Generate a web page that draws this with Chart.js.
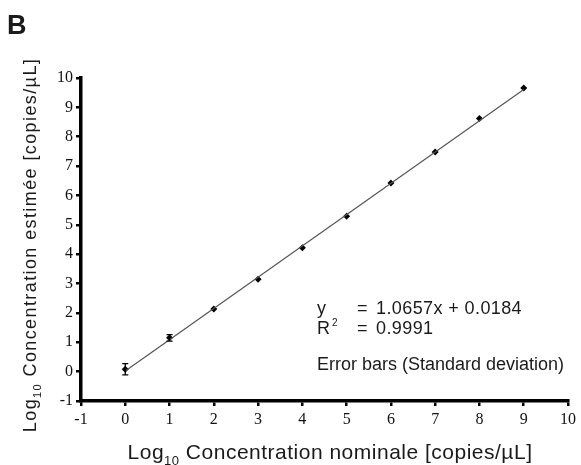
<!DOCTYPE html>
<html>
<head>
<meta charset="utf-8">
<script src="https://cdn.jsdelivr.net/npm/chart.js@4/dist/chart.umd.min.js"></script>
<style>
  html, body { margin: 0; padding: 0; background: #fff; }
  #wrap { width: 581px; height: 465px; position: relative; }
</style>
</head>
<body>
<div id="wrap"><canvas id="chartCanvas"></canvas></div>
<script>
  // values
  var nominal = [0, 1, 2, 3, 4, 5, 6, 7, 8, 9];
  var estimated = [0.08, 1.15, 2.13, 3.15, 4.22, 5.29, 6.42, 7.48, 8.62, 9.66];
  var stdDev = [0.19, 0.11, 0.03, 0.03, 0.02, 0.02, 0.02, 0.02, 0.02, 0.02];
  var fitX = [0, 9];
  var fitY = [0.02, 9.61];
  var axisMin = -1;
  var axisMax = 10;

  var sansFont = '"Liberation Sans", Arial, sans-serif';
  var serifFont = '"Liberation Serif", "Times New Roman", serif';

  var points = nominal.map(function(x, i) { return { x: x, y: estimated[i] }; });
  var fitLine = fitX.map(function(x, i) { return { x: x, y: fitY[i] }; });

  function setSpacing(ctx, px) {
    if ('letterSpacing' in ctx) ctx.letterSpacing = px + 'px';
  }

  // draws text with a "10" subscript after "Log"
  function drawLogTitle(ctx, rest, size, spacing) {
    var sub = Math.round(size * 0.62);
    setSpacing(ctx, spacing);
    ctx.font = size + 'px ' + sansFont;
    var w1 = ctx.measureText('Log').width;
    var w3 = ctx.measureText(rest).width;
    ctx.font = sub + 'px ' + sansFont;
    var w2 = ctx.measureText('10').width;
    var x = -(w1 + w2 + w3) / 2;
    ctx.textBaseline = 'alphabetic';
    ctx.textAlign = 'left';
    ctx.font = size + 'px ' + sansFont;
    ctx.fillText('Log', x, 0);
    ctx.font = sub + 'px ' + sansFont;
    ctx.fillText('10', x + w1, size * 0.3);
    ctx.font = size + 'px ' + sansFont;
    ctx.fillText(rest, x + w1 + w2, 0);
    setSpacing(ctx, 0);
  }

  var extrasPlugin = {
    id: 'extras',
    afterDatasetsDraw: function(chart) {
      var ctx = chart.ctx;
      var xs = chart.scales.x, ys = chart.scales.y;
      ctx.save();
      ctx.strokeStyle = '#000';
      ctx.lineWidth = 1.3;
      nominal.forEach(function(x, i) {
        var px = xs.getPixelForValue(x);
        var top = ys.getPixelForValue(estimated[i] + stdDev[i]);
        var bot = ys.getPixelForValue(estimated[i] - stdDev[i]);
        if (bot - top < 4) return;
        ctx.beginPath();
        ctx.moveTo(px, top); ctx.lineTo(px, bot);
        ctx.moveTo(px - 3, top); ctx.lineTo(px + 3, top);
        ctx.moveTo(px - 3, bot); ctx.lineTo(px + 3, bot);
        ctx.stroke();
      });
      ctx.restore();
    },
    afterDraw: function(chart) {
      var ctx = chart.ctx;
      ctx.save();
      ctx.fillStyle = '#1a1a1a';

      ctx.font = 'bold 27px ' + sansFont;
      ctx.textAlign = 'left';
      ctx.textBaseline = 'alphabetic';
      ctx.fillText('B', 7, 34);

      ctx.save();
      ctx.translate(330, 459);
      drawLogTitle(ctx, ' Concentration nominale [copies/\u00b5L]', 21, 0.5);
      ctx.restore();

      ctx.save();
      ctx.translate(36, 245);
      ctx.rotate(-Math.PI / 2);
      drawLogTitle(ctx, ' Concentration estim\u00e9e [copies/\u00b5L]', 18, 1.4);
      ctx.restore();

      ctx.font = '18px ' + sansFont;
      ctx.textAlign = 'left';
      setSpacing(ctx, 0.4);
      ctx.fillText('y', 317, 314);
      ctx.fillText('=', 357, 314);
      ctx.fillText('1.0657x + 0.0184', 376, 314);
      ctx.fillText('R', 317, 334);
      ctx.fillText('=', 357, 334);
      ctx.fillText('0.9991', 376, 334);
      setSpacing(ctx, 0);
      ctx.fillText('Error bars (Standard deviation)', 317, 370);
      ctx.font = '10px ' + sansFont;
      ctx.fillText('2', 332, 326);
      ctx.restore();
    }
  };

  function axisOptions() {
    return {
      type: 'linear',
      min: axisMin,
      max: axisMax,
      border: { display: true, color: '#000', width: 3.5 },
      grid: { drawOnChartArea: false, drawTicks: true, tickLength: 5, color: '#000', lineWidth: 2.5 },
      ticks: {
        stepSize: 1,
        color: '#111',
        font: { family: serifFont, size: 16 },
        callback: function(v) { return String(v); }
      }
    };
  }

  var xOpts = axisOptions();
  xOpts.ticks.padding = 4;
  xOpts.afterFit = function(scale) { scale.height = 64; };
  var yOpts = axisOptions();
  yOpts.ticks.padding = 3;
  yOpts.afterFit = function(scale) { scale.width = 81; };

  new Chart(document.getElementById('chartCanvas'), {
    type: 'scatter',
    data: {
      datasets: [
        {
          type: 'line',
          data: fitLine,
          borderColor: '#555',
          borderWidth: 1.2,
          pointRadius: 0,
          fill: false
        },
        {
          data: points,
          pointStyle: 'rectRot',
          pointRadius: 3.5,
          backgroundColor: '#000',
          borderColor: '#000',
          borderWidth: 0
        }
      ]
    },
    options: {
      responsive: true,
      maintainAspectRatio: false,
      animation: false,
      layout: { padding: { left: 0, top: 78, right: 13, bottom: 0 } },
      plugins: { legend: { display: false }, tooltip: { enabled: false } },
      scales: { x: xOpts, y: yOpts }
    },
    plugins: [extrasPlugin]
  });
</script>
</body>
</html>
